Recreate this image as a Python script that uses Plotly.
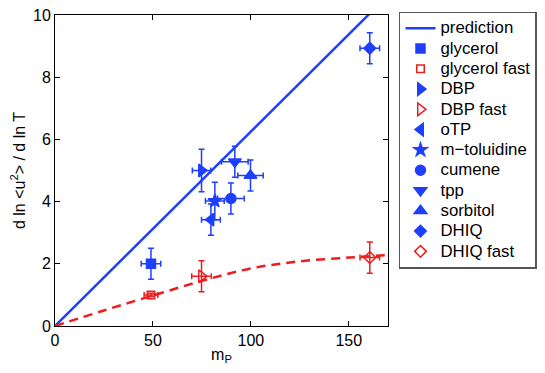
import plotly.graph_objects as go

BLUE = "#1f3fff"
RED = "#ee1d1d"

# prediction line and fast-relaxation guide curve
pred_x = [0, 170]
pred_y = [0, 10.63]
fast_x = [0, 25, 50, 75, 100, 125, 150, 170]
fast_y = [0, 0.5, 0.98, 1.45, 1.85, 2.08, 2.2, 2.28]

# series: name, x, y, xerr, yerr
names = ["glycerol", "glycerol fast", "DBP", "DBP fast", "oTP", "m\u2212toluidine",
         "cumene", "tpp", "sorbitol", "DHIQ", "DHIQ fast"]
mp = [49, 49, 74.8, 74.8, 79.6, 81.6, 89.8, 91.8, 99.8, 160.7, 160.7]
slope = [2.0, 1.0, 5.0, 1.6, 3.42, 4.02, 4.1, 5.28, 4.84, 8.93, 2.2]
mp_err = [5, 3.5, 4.7, 5, 4.8, 4.8, 6.8, 6.8, 6.5, 5, 5]
slope_err = [0.5, 0.05, 0.68, 0.5, 0.5, 0.6, 0.5, 0.5, 0.5, 0.5, 0.5]
symbols = ["square", "square-open", "triangle-right", "triangle-right-open", "triangle-left",
           "star", "circle", "triangle-down", "triangle-up", "diamond", "diamond-open"]
colors = [BLUE, RED, BLUE, RED, BLUE, BLUE, BLUE, BLUE, BLUE, BLUE, RED]
sizes = [9, 7.5, 11, 11, 11, 10, 10, 11, 11, 9, 9]

LEG = '<span style="font-size:16.8px">{}</span>'

fig = go.Figure()
fig.add_trace(go.Scatter(x=pred_x, y=pred_y, mode="lines", name=LEG.format("prediction"),
                         line=dict(color=BLUE, width=2.5)))
for i, n in enumerate(names):
    fig.add_trace(go.Scatter(
        x=[mp[i]], y=[slope[i]], mode="markers", name=LEG.format(n),
        marker=dict(symbol=symbols[i], color=colors[i], size=sizes[i],
                    line=dict(color=colors[i], width=1.5)),
        error_x=dict(type="data", array=[mp_err[i]], color=colors[i], thickness=1.5, width=3),
        error_y=dict(type="data", array=[slope_err[i]], color=colors[i], thickness=1.5, width=3),
    ))
fig.add_trace(go.Scatter(x=fast_x, y=fast_y, mode="lines", showlegend=False,
                         line=dict(color=RED, width=2.5, dash="9px,6px", shape="spline")))

axis_common = dict(showline=True, linecolor="black", linewidth=1, mirror="ticks",
                   ticks="inside", ticklen=5, tickcolor="black", showgrid=False,
                   zeroline=False, tickfont=dict(size=16, color="black"), automargin=False,
                   ticklabeloverflow="allow")
fig.update_xaxes(range=[0, 170], tickvals=[0, 50, 100, 150],
                 title=dict(text="m<sub>P</sub>", font=dict(size=16, color="black"), standoff=0),
                 **axis_common)
fig.update_yaxes(range=[0, 10], tickvals=[0, 2, 4, 6, 8, 10],
                 title=dict(text="d ln &lt;u<sup>2</sup>&gt; / d ln T", font=dict(size=16, color="black"), standoff=14),
                 **axis_common)

fig.update_layout(
    width=537, height=365,
    margin=dict(l=47, r=157, t=7, b=47, autoexpand=False),
    paper_bgcolor="white", plot_bgcolor="white",
    font=dict(family="Liberation Sans, Arial, sans-serif", color="black"),
    legend=dict(x=1.033, y=0.598, xanchor="left", yanchor="middle",
                bordercolor="#555555", borderwidth=1.5,
                font=dict(size=13.3, color="black"), bgcolor="white",
                itemwidth=30, tracegroupgap=0),
)
fig.write_html("out.html")
